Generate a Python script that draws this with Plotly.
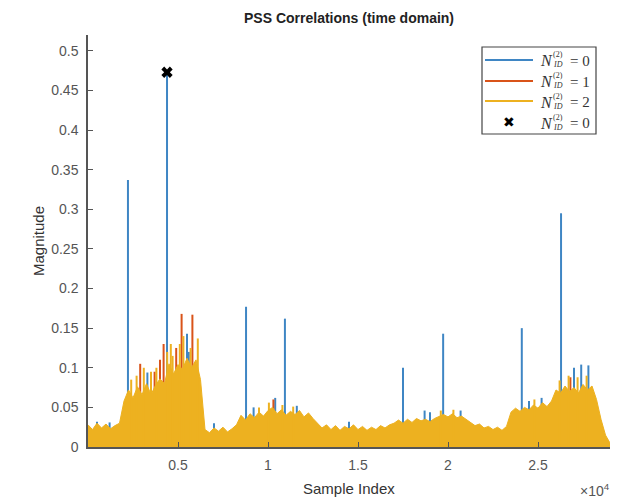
import plotly.graph_objects as go

# ---- data -------------------------------------------------------------
# upper envelope of the dense correlation output (N_ID^(2) = 2), sampled every 250 samples
band_x = list(range(0, 29001, 250))
band_y = [
    0.028, 0.022, 0.030, 0.024, 0.029, 0.023, 0.027, 0.030,           # 0 .. 1750
    0.058, 0.072, 0.062, 0.076, 0.066, 0.080, 0.066, 0.078,           # 2000 .. 3750
    0.086, 0.080, 0.105, 0.092, 0.104, 0.098, 0.112, 0.100,           # 4000 .. 5750
    0.110, 0.085, 0.022, 0.018, 0.024, 0.020, 0.025, 0.019,           # 6000 .. 7750
    0.023, 0.028, 0.040, 0.034, 0.042, 0.037, 0.044, 0.039,           # 8000 .. 9750
    0.046, 0.050, 0.042, 0.047, 0.040, 0.045, 0.041, 0.046,           # 10000 .. 11750
    0.038, 0.043, 0.036, 0.030, 0.024, 0.028, 0.022, 0.027,           # 12000 .. 13750
    0.021, 0.026, 0.023, 0.028, 0.022, 0.026, 0.021, 0.025,           # 14000 .. 15750
    0.022, 0.027, 0.024, 0.028, 0.030, 0.034, 0.030, 0.035,           # 16000 .. 17750
    0.031, 0.036, 0.033, 0.035, 0.032, 0.036, 0.038, 0.041,           # 18000 .. 19750
    0.038, 0.042, 0.037, 0.039, 0.035, 0.031, 0.027, 0.029,           # 20000 .. 21750
    0.024, 0.026, 0.022, 0.025, 0.021, 0.026, 0.044, 0.049,           # 22000 .. 23750
    0.045, 0.050, 0.047, 0.053, 0.049, 0.056, 0.051, 0.058,           # 24000 .. 25750
    0.072, 0.068, 0.077, 0.070, 0.075, 0.068, 0.079, 0.072,           # 26000 .. 27750
    0.077, 0.060, 0.035, 0.015, 0.005,                                # 28000 .. 29000
]

# thin peaks of N_ID^(2) = 2 poking out of the band
peak2_x = [2400, 2700, 3100, 3500, 3800, 4400, 4600, 4700, 5100, 5300, 5700, 6100,
           9500, 10050, 10800, 11400, 19600, 20300, 24800, 26200, 26700, 27200, 27700]
peak2_y = [0.085, 0.090, 0.100, 0.095, 0.100, 0.120, 0.130, 0.115, 0.130, 0.140,
           0.125, 0.137, 0.050, 0.056, 0.053, 0.051, 0.046, 0.047, 0.060, 0.084,
           0.090, 0.088, 0.090]

# correlation peaks of N_ID^(2) = 0 that rise above the band
peak0_x = [2220, 4390, 8780, 10940, 17500, 19730, 24100, 26280,
           500, 1200, 3300, 5500, 5600, 7000, 9200, 10400, 11600, 14500,
           18700, 19000, 20700, 24500, 25200, 27000, 27400, 27800]
peak0_y = [0.337, 0.473, 0.177, 0.162, 0.100, 0.143, 0.150, 0.295,
           0.032, 0.031, 0.094, 0.143, 0.120, 0.030, 0.050, 0.062, 0.052, 0.032,
           0.046, 0.044, 0.046, 0.058, 0.062, 0.100, 0.104, 0.103]

# peaks of N_ID^(2) = 1
peak1_x = [2900, 3700, 4000, 4200, 4900, 5200, 5800, 10300, 26800]
peak1_y = [0.105, 0.095, 0.110, 0.130, 0.125, 0.168, 0.167, 0.060, 0.088]

# detected maximum
max_x = [4390]
max_y = [0.473]

legend_values = ["0", "1", "2", "0"]

# ---- styling ----------------------------------------------------------
BLUE, ORANGE, YELLOW = "#3f86c4", "#d95319", "#edb120"
AXIS_C = "#555555"
W_PX, H_PX = 625, 499
L, R, T, B = 88, 610, 35, 447


def px(xp):
    return (xp - L) / (R - L)


def py(yp):
    return (B - yp) / (B - T)


def spikes(xs, ys):
    sx, sy = [], []
    for x, y in zip(xs, ys):
        sx += [x, x, None]
        sy += [0, y, None]
    return sx, sy


fig = go.Figure()

s0x, s0y = spikes(peak0_x, peak0_y)
fig.add_trace(go.Scatter(x=s0x, y=s0y, mode="lines",
                         line=dict(color=BLUE, width=2), hoverinfo="skip"))
s1x, s1y = spikes(peak1_x, peak1_y)
fig.add_trace(go.Scatter(x=s1x, y=s1y, mode="lines",
                         line=dict(color=ORANGE, width=2), hoverinfo="skip"))
fig.add_trace(go.Scatter(x=band_x, y=band_y, mode="lines", fill="tozeroy",
                         fillcolor=YELLOW, line=dict(color=YELLOW, width=1)))
s2x, s2y = spikes(peak2_x, peak2_y)
fig.add_trace(go.Scatter(x=s2x, y=s2y, mode="lines",
                         line=dict(color=YELLOW, width=2), hoverinfo="skip"))
fig.add_trace(go.Scatter(x=max_x, y=max_y, mode="markers",
                         marker=dict(symbol="x", size=10, color="black",
                                     line=dict(width=0))))

tick_font = dict(family="Liberation Sans", size=14, color=AXIS_C)
fig.update_xaxes(range=[0, 29000], tickvals=[5000, 10000, 15000, 20000, 25000],
                 ticktext=["0.5", "1", "1.5", "2", "2.5"],
                 ticks="inside", ticklen=5, tickcolor=AXIS_C, showline=True,
                 linecolor=AXIS_C, linewidth=1.5, showgrid=False, zeroline=False,
                 tickfont=tick_font, ticklabelstandoff=4)
fig.update_yaxes(range=[0, 0.52], tickvals=[i * 0.05 for i in range(11)],
                 ticktext=["0", "0.05", "0.1", "0.15", "0.2", "0.25", "0.3",
                           "0.35", "0.4", "0.45", "0.5"],
                 ticks="inside", ticklen=5, tickcolor=AXIS_C, showline=True,
                 linecolor=AXIS_C, linewidth=1.5, showgrid=False, zeroline=False,
                 tickfont=tick_font, ticklabelstandoff=5)


def note(text, xp, yp, size, color="#333333", family="Liberation Sans",
         xanchor="center", **kw):
    return dict(text=text, x=px(xp), y=py(yp), xref="paper", yref="paper",
                xanchor=xanchor, yanchor="middle", showarrow=False,
                font=dict(family=family, size=size, color=color), **kw)


ann = [
    note("<b>PSS Correlations (time domain)</b>", (L + R) / 2, 18, 14, "#222222"),
    note("Sample Index", (L + R) / 2, 488, 15),
    note("Magnitude", 38, (T + B) / 2, 15, textangle=-90),
    note("\u00d710<sup>4</sup>", 612, 490, 14, AXIS_C, xanchor="right"),
]

# legend box drawn with shapes and annotations
shapes = [dict(type="rect", xref="paper", yref="paper", x0=px(482), x1=px(596),
               y0=py(134), y1=py(47), line=dict(color="#444444", width=1.2),
               fillcolor="white", layer="above")]
rows = [60, 81, 101, 122]
sample_colors = [BLUE, ORANGE, YELLOW]
serif = "Liberation Serif"
for i, (yr, val) in enumerate(zip(rows, legend_values)):
    if i < 3:
        shapes.append(dict(type="line", xref="paper", yref="paper",
                           x0=px(485), x1=px(533), y0=py(yr), y1=py(yr),
                           line=dict(color=sample_colors[i], width=2), layer="above"))
    else:
        ann.append(note("<b>\u2716</b>", 509, yr, 14, "black", family="DejaVu Sans"))
    ann.append(note("<i>N</i>", 538, yr + 1, 16, family=serif, xanchor="left"))
    ann.append(note("(2)", 551, yr - 5, 8, family=serif, xanchor="left"))
    ann.append(note("<i>ID</i>", 551, yr + 5, 8, family=serif, xanchor="left"))
    ann.append(note("= " + val, 568, yr + 1, 15, family=serif, xanchor="left"))

fig.update_layout(width=W_PX, height=H_PX, showlegend=False,
                  margin=dict(l=L, r=W_PX - R, t=T, b=H_PX - B),
                  paper_bgcolor="white", plot_bgcolor="white",
                  annotations=ann, shapes=shapes)

fig.write_html("out.html")
